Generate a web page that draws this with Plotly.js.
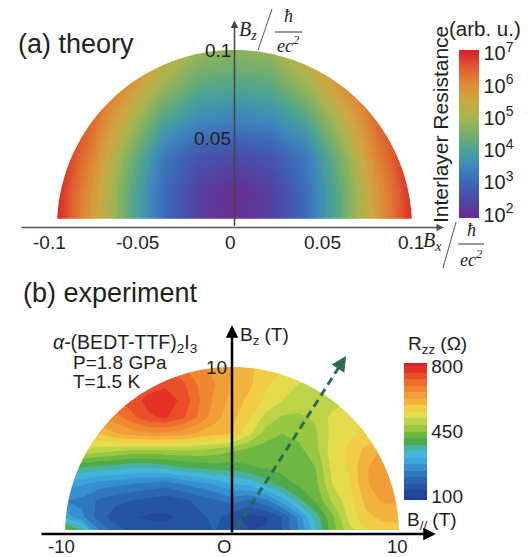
<!DOCTYPE html>
<html><head><meta charset="utf-8">
<script src="https://cdn.plot.ly/plotly-3.0.1.min.js"></script>
<style>html,body{margin:0;padding:0;background:#fff}#chart{width:532px;height:557px}</style>
</head><body><div id="chart"></div>
<script>
// ================= DATA =================
// (a) theory : log10(interlayer resistance)
const theoryBx = [-0.1,-0.08,-0.06,-0.04,-0.02,0,0.02,0.04,0.06,0.08,0.1];
const theoryBz = [0,0.02,0.04,0.06,0.08,0.1];
const theoryLogR = [
  [7.0,5.7,4.3,3.1,2.3,2.1,2.3,3.1,4.3,5.7,7.0],
  [7.0,5.8,4.3,3.1,2.3,2.0,2.3,3.1,4.3,5.8,7.0],
  [7.1,6.1,4.6,3.3,2.7,2.5,2.7,3.3,4.6,6.1,7.1],
  [7.3,6.4,5.2,4.0,3.5,3.4,3.5,4.0,5.2,6.4,7.3],
  [7.4,6.7,5.9,4.9,4.2,4.1,4.2,4.9,5.9,6.7,7.4],
  [7.5,6.9,6.2,5.6,4.9,4.7,4.9,5.6,6.2,6.9,7.5]
];
const theoryCbarVals = [2,3,4,5,6,7];
const theoryCbarText = ['10<sup>2</sup>','10<sup>3</sup>','10<sup>4</sup>','10<sup>5</sup>','10<sup>6</sup>','10<sup>7</sup>'];
const theoryXTicks = [-0.1,-0.05,0,0.05,0.1];
const theoryXTickText = ['-0.1','-0.05','0','0.05','0.1'];
const theoryYTicks = [0.05,0.1];
const theoryYTickText = ['0.05','0.1'];

// (b) experiment : Rzz (Ohm) on a B_par x B_z grid (Tesla)
const expBpar = [-10,-9,-8,-7,-6,-5,-4,-3,-2,-1,0,1,2,3,4,5,6,7,8,9,10];
const expBz = [0,1,2,3,4,5,6,7,8,9,10];
const expRzz = [
  [480,420,260,200,170,160,150,150,160,170,170, 140,140,170,240,330,430,500,540,560,570],
  [300,250,190,150,140,130,130,140,160,180,150, 120,130,170,250,360,440,530,580,600,600],
  [240,230,200,180,170,160,150,160,180,200,220, 200,230,290,370,420,490,540,600,630,630],
  [290,280,260,250,240,230,220,240,260,280,310, 320,360,400,420,440,520,550,620,650,650],
  [390,380,370,360,350,350,360,380,390,400,395, 410,420,425,430,450,530,560,620,650,650],
  [530,520,500,490,480,480,480,480,480,470,455, 440,430,430,440,470,540,560,600,630,630],
  [600,600,590,620,640,650,650,640,620,600,590, 530,470,450,460,480,530,550,560,580,580],
  [660,660,660,680,720,760,770,740,690,640,600, 560,510,480,480,490,530,550,560,560,560],
  [700,700,700,720,750,775,780,760,700,650,615, 580,550,520,500,490,500,520,520,520,520],
  [700,700,700,720,740,750,760,740,690,660,620, 600,560,545,520,500,500,500,500,500,500],
  [680,680,680,680,700,720,720,700,670,645,625, 600,570,560,560,560,560,560,560,560,560]
];
const expCbarVals = [100,450,800];
const expXTicks = [-10,10];
const expYTicks = [10];
const dashX = [0.3,6.55];   // dashed guide (T)
const dashY = [0.4,10.22];
const dashHead = [6.83,10.66];

// ================= STYLE =================
const W = 532, H = 557;
const FONT = '"Liberation Sans", Arial, sans-serif';
const SERIF = '"Liberation Serif", "Times New Roman", serif';
const TXT = '#231f20';
const px = x => x / W, py = y => 1 - y / H;

// theory colours (keyed by log10 value)
const tZmin = 1.9, tZmax = 7.1;
const theoryStops = [
  [1.9,'#6b2c8f'],[2.0,'#6a2e91'],[2.5,'#4c4ba6'],[3.0,'#3d67b6'],[3.5,'#3e87bf'],
  [4.0,'#4ba296'],[4.5,'#76af6a'],[5.0,'#a5b552'],[5.5,'#cda943'],[6.0,'#de8d36'],
  [6.5,'#e1602f'],[7.0,'#d8282a'],[7.1,'#d6232a']
];
const theoryScale = theoryStops.map(s => [(s[0]-tZmin)/(tZmax-tZmin), s[1]]);

// experiment band colours (below 100, 21 bands of 35 Ohm, above 800)
const expColors = ['#213f92','#22479a','#2554a4','#2a65b2','#2f78bf','#3690d0','#3ca4da',
  '#43b6e0','#49b0a4','#4faa4b','#6db743','#98c842','#bdd449','#e4dc4d','#f0cd45',
  '#f3b43d','#f29e38','#f08832','#ee6c2c','#ea4f29','#e53227','#e31e24'];
const expScale = expColors.map((c,i) => [i/(expColors.length-1), c]);

// top panel axes (px mapping)
const tS = 1775, tX0 = 234.5, tY0 = 227.5;
const topDom = [1 - 250/H, 1];
const topX = [(0 - tX0)/tS, (W - tX0)/tS];
const topY = [(tY0 - 250)/tS, (tY0 - 0)/tS];
// bottom panel axes
const bS = 16.7, bX0 = 232, bY0 = 534;
const botDom = [0, 297/H];
const botX = [(0 - bX0)/bS, (W - bX0)/bS];
const botY = [(bY0 - 557)/bS, (bY0 - 260)/bS];

function maskPath(r, yCut, box) {
  const [x0,x1,y0,y1] = box;
  let p = `M${x0},${y0}L${x1},${y0}L${x1},${y1}L${x0},${y1}Z`;
  const t0 = Math.asin(yCut/r), n = 160, pts = [];
  for (let i = 0; i <= n; i++) {
    const t = t0 + (Math.PI - 2*t0) * i / n;
    pts.push(`${(r*Math.cos(t)).toFixed(5)},${(r*Math.sin(t)).toFixed(5)}`);
  }
  return p + 'M' + pts.join('L') + 'Z';
}

const traces = [
  {type:'heatmap', x: theoryBx, y: theoryBz, z: theoryLogR, xaxis:'x', yaxis:'y',
   zsmooth:'best', zmin:tZmin, zmax:tZmax, colorscale: theoryScale, hoverinfo:'skip',
   colorbar:{x:px(459), xanchor:'left', xpad:0, y:py(50), yanchor:'top', ypad:0,
     lenmode:'pixels', len:168, thickness:20, outlinewidth:0, ticks:'',
     tickvals: theoryCbarVals, ticktext: theoryCbarText,
     tickfont:{family:FONT, size:20, color:TXT}}},
  {type:'contour', x: expBpar, y: expBz, z: expRzz, xaxis:'x2', yaxis:'y2',
   autocontour:false, contours:{start:100, end:800, size:35, coloring:'fill'},
   line:{width:0, smoothing:0}, colorscale: expScale, hoverinfo:'skip',
   colorbar:{x:px(404), xanchor:'left', xpad:0, y:py(363), yanchor:'top', ypad:0,
     lenmode:'pixels', len:137, thickness:23, outlinewidth:0, ticks:'',
     tickvals: expCbarVals, tickfont:{family:FONT, size:19, color:TXT}}}
];

const ann = [];
function T(text, x, y, size, opt) {
  ann.push(Object.assign({text, x:px(x), y:py(y), xref:'paper', yref:'paper',
    showarrow:false, font:{family:FONT, size, color:TXT}, xanchor:'center', yanchor:'middle'}, opt||{}));
}
const tickShift = v => v < 0 ? -8 : (v === 0 ? -4 : -1);
// titles
T('(a) theory', 16, 44, 27, {xanchor:'left'});
T('(b) experiment', 21, 293, 27, {xanchor:'left'});
// theory ticks
theoryXTicks.forEach((v,i) => ann.push({text: theoryXTickText[i], x:v, y:0, xref:'x', yref:'y',
  showarrow:false, yanchor:'top', yshift:-2, xshift: tickShift(v), font:{family:FONT, size:19, color:TXT}}));
theoryYTicks.forEach((v,i) => ann.push({text: theoryYTickText[i], x:0, y:v, xref:'x', yref:'y',
  showarrow:false, xanchor:'right', xshift:-2, font:{family:FONT, size:19, color:TXT}}));
// experiment ticks
expXTicks.forEach(v => ann.push({text: (v < 0 ? '-' : '') + Math.abs(v), x:v, y:0, xref:'x2', yref:'y2',
  showarrow:false, yanchor:'middle', yshift:-12.5, xshift: v < 0 ? -4 : -2, borderpad:0,
  font:{family:FONT, size:18.5, color:TXT}}));
expYTicks.forEach(v => ann.push({text: String(v), x:0, y:v, xref:'x2', yref:'y2',
  showarrow:false, xanchor:'right', xshift:-3, font:{family:FONT, size:19, color:TXT}}));
T('O', 224, 546, 18.5, {borderpad:0});
// axis arrows
function A(xr, yr, hx, hy, tx, ty, color, w, head) {
  ann.push({text:'', x:hx, y:hy, ax:tx, ay:ty, xref:xr, yref:yr, axref:xr, ayref:yr,
    showarrow:true, arrowhead:head, arrowsize:1, arrowwidth:w, arrowcolor:color, standoff:0});
}
A('x','y', 0.118, 0, -0.121, 0, '#555', 1.5, 2);
A('x','y', 0, 0.1166, 0, 0, '#444', 1.5, 2);
A('x2','y2', 12.2, 0, -11.5, 0, '#000', 2.5, 2);
A('x2','y2', 0, 12.5, 0, 0, '#000', 2.5, 2);
A('x2','y2', dashHead[0], dashHead[1], dashX[1], dashY[1], '#2b6b4f', 3, 2);
// axis labels (theory)
T('<i>B<sub>z</sub></i>', 248, 31, 20, {font:{family:SERIF, size:20, color:TXT}});
T('<i>ħ</i>', 288, 16, 18, {font:{family:SERIF, size:18, color:TXT}});
T('<i>ec<sup>2</sup></i>', 288, 45, 18, {font:{family:SERIF, size:18, color:TXT}});
T('<i>B<sub>x</sub></i>', 432, 241, 20, {font:{family:SERIF, size:20, color:TXT}});
T('<i>ħ</i>', 471, 230, 18, {font:{family:SERIF, size:18, color:TXT}});
T('<i>ec<sup>2</sup></i>', 471, 258, 18, {font:{family:SERIF, size:18, color:TXT}});
// colorbar titles
T('Interlayer Resistance', 440, 125, 21, {textangle:-90});
T('(arb. u.)', 485, 28, 20.5, {borderpad:0});
T('R<sub>zz</sub> (Ω)', 437, 345, 19);
// experiment labels
T('B<sub>z</sub> (T)', 264, 336, 19);
T('B<sub>//</sub> (T)', 432, 521, 19);
T('<i>α</i>-(BEDT-TTF)<sub>2</sub>I<sub>3</sub>', 52, 343.5, 19.5, {xanchor:'left', borderpad:0});
T('P=1.8 GPa', 72, 362, 19, {xanchor:'left', borderpad:0});
T('T=1.5 K', 72, 381.5, 19, {xanchor:'left', borderpad:0});

const shapes = [
  {type:'path', xref:'x', yref:'y', path: maskPath(0.1, 0.005, [-0.13,0.13,-0.0127,0.125]),
   fillcolor:'#fff', line:{width:0}, layer:'above', fillrule:'evenodd'},
  {type:'path', xref:'x2', yref:'y2', path: maskPath(10, 0.24, [-10.5,10.5,-0.5,10.5]),
   fillcolor:'#fff', line:{width:0}, layer:'above', fillrule:'evenodd'},
  {type:'line', xref:'x2', yref:'y2', x0:dashX[0], y0:dashY[0], x1:dashX[1], y1:dashY[1],
   line:{color:'#2b6b4f', width:3, dash:'8px,5px'}, layer:'above'},
  // fraction slashes and bars
  {type:'line', xref:'paper', yref:'paper', x0:px(258), y0:py(50), x1:px(272), y1:py(9), line:{color:'#555', width:1}},
  {type:'line', xref:'paper', yref:'paper', x0:px(275), y0:py(32), x1:px(302), y1:py(32), line:{color:'#333', width:1}},
  {type:'line', xref:'paper', yref:'paper', x0:px(443), y0:py(268), x1:px(456), y1:py(222), line:{color:'#555', width:1}},
  {type:'line', xref:'paper', yref:'paper', x0:px(458), y0:py(244), x1:px(484), y1:py(244), line:{color:'#333', width:1}}
];

const ax = (dom, rng) => ({domain:dom, range:rng, visible:false, fixedrange:true});
const layout = {
  width: W, height: H, margin:{l:0,r:0,t:0,b:0}, showlegend:false,
  paper_bgcolor:'#fff', plot_bgcolor:'rgba(0,0,0,0)',
  xaxis: Object.assign(ax([0,1], topX), {anchor:'y'}), yaxis: Object.assign(ax(topDom, topY), {anchor:'x'}),
  xaxis2: Object.assign(ax([0,1], botX), {anchor:'y2'}), yaxis2: Object.assign(ax(botDom, botY), {anchor:'x2'}),
  annotations: ann, shapes: shapes
};
Plotly.newPlot('chart', traces, layout, {displayModeBar:false, staticPlot:true});
</script></body></html>
